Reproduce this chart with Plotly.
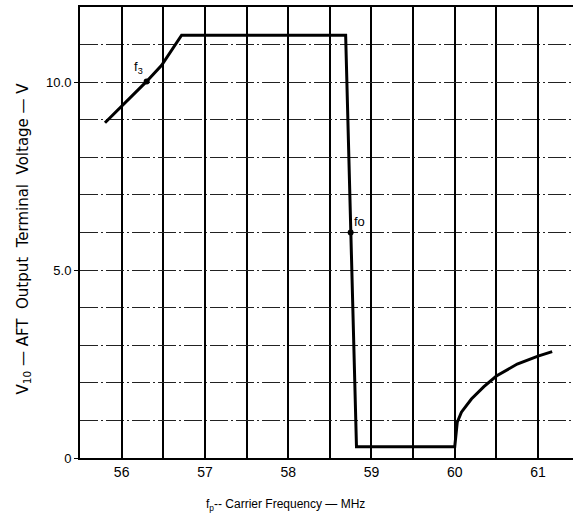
import plotly.graph_objects as go

# Data
freq_mhz = [55.8, 56.0, 56.15, 56.3, 56.48, 56.6, 56.72, 58.69, 58.75, 58.82,
            60.0, 60.01, 60.03, 60.08, 60.2, 60.35, 60.5, 60.75, 61.0, 61.17]
volt_v = [8.92, 9.36, 9.7, 10.02, 10.45, 10.85, 11.25, 11.25, 6.0, 0.3,
          0.3, 0.6, 0.95, 1.22, 1.57, 1.9, 2.18, 2.5, 2.71, 2.83]
marker_labels = ["f<sub>3</sub>", "fo"]
marker_x = [56.3, 58.75]
marker_y = [10.02, 6.0]
x_ticks = [56, 57, 58, 59, 60, 61]
x_ticktext = ["56", "57", "58", "59", "60", "61"]
y_ticks = [0, 5, 10]
y_ticktext = ["0", "5.0", "10.0"]

W, H = 573, 522
ML, MR, MT, MB = 80, 0, 7, 64

fig = go.Figure()
fig.add_trace(go.Scatter(x=freq_mhz, y=volt_v, mode="lines",
                         line=dict(color="black", width=3), hoverinfo="skip"))
fig.add_trace(go.Scatter(x=marker_x, y=marker_y, mode="markers",
                         marker=dict(color="black", size=6), hoverinfo="skip"))

fig.add_annotation(x=marker_x[0], y=marker_y[0], text=marker_labels[0],
                   showarrow=False, xanchor="right", yanchor="bottom",
                   xshift=-2, yshift=3, font=dict(size=13, color="black"))
fig.add_annotation(x=marker_x[1], y=marker_y[1], text=marker_labels[1],
                   showarrow=False, xanchor="left", yanchor="bottom",
                   xshift=1, yshift=2, font=dict(size=13, color="black"))

plot_w = W - ML - MR
fig.add_annotation(xref="paper", yref="paper", x=(23 - ML) / plot_w, y=0.5,
                   text="V<sub>10</sub> — AFT  Output  Terminal  Voltage — V",
                   textangle=-90, showarrow=False, xanchor="center", yanchor="middle",
                   yshift=-6,
                   font=dict(size=15, color="black", family="DejaVu Sans"))
fig.add_annotation(xref="paper", yref="paper", x=(285 - ML) / plot_w, y=0,
                   yshift=-47, text="f<sub>p</sub>-- Carrier Frequency — MHz",
                   showarrow=False, xanchor="center", yanchor="middle",
                   font=dict(size=12, color="black", family="Liberation Sans"))

fig.update_layout(
    width=W, height=H,
    margin=dict(l=ML, r=MR, t=MT, b=MB),
    paper_bgcolor="white", plot_bgcolor="white",
    showlegend=False,
    font=dict(family="Liberation Sans", color="black", size=13),
)
fig.update_xaxes(
    range=[55.5, 61.42], tickvals=x_ticks, ticktext=x_ticktext,
    showgrid=True, gridcolor="black", gridwidth=1.6,
    minor=dict(tick0=55.5, dtick=0.5, showgrid=True, gridcolor="black", gridwidth=1.6),
    showline=True, linecolor="black", linewidth=2, mirror=True,
    ticks="", zeroline=False, tickfont=dict(size=14),
)
fig.update_yaxes(
    range=[0, 12], tickvals=y_ticks, ticktext=y_ticktext,
    showgrid=True, gridcolor="#222", gridwidth=1, griddash="18px,3px,2px,3px",
    minor=dict(dtick=1, showgrid=True, gridcolor="#222", gridwidth=1,
               griddash="18px,3px,2px,3px"),
    showline=True, linecolor="black", linewidth=2,
    ticks="outside", ticklen=4, tickcolor="black", zeroline=False,
    tickfont=dict(size=13),
)

fig.write_html("out.html")
